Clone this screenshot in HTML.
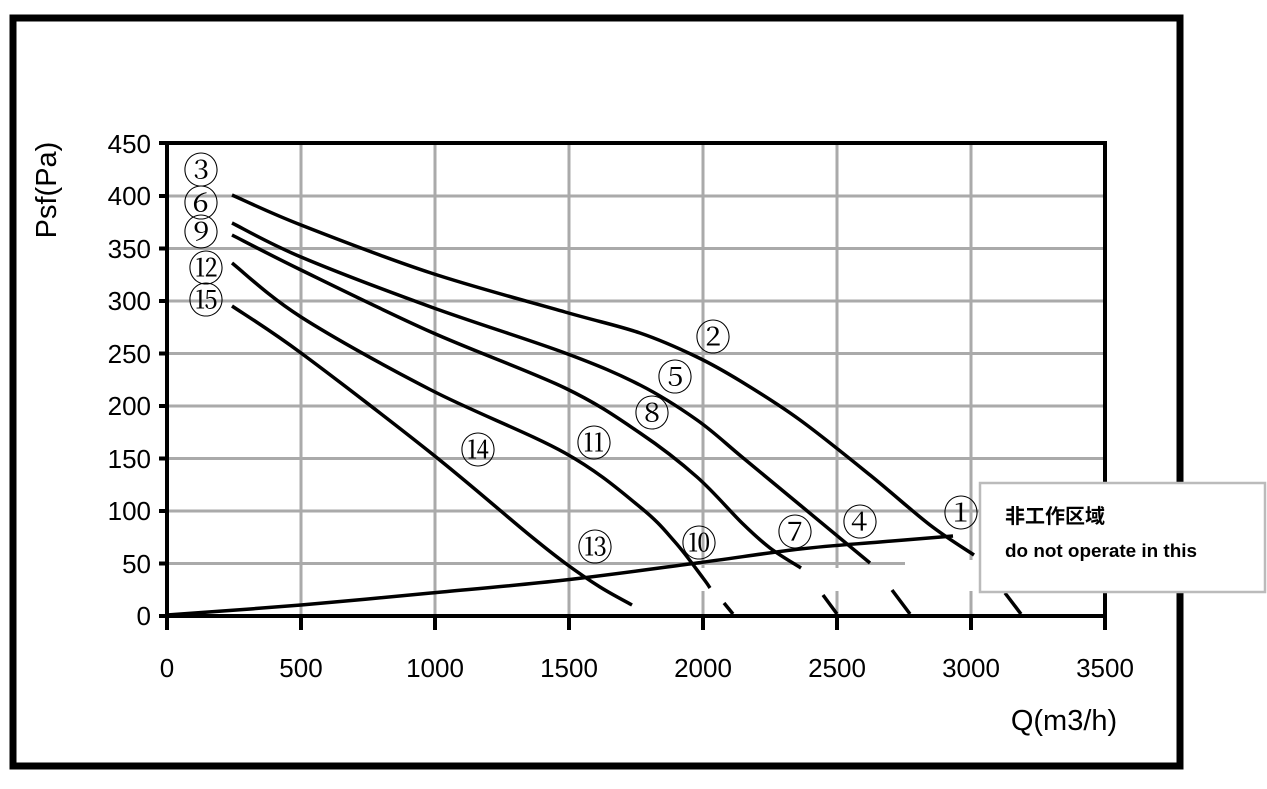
<!DOCTYPE html>
<html><head><meta charset="utf-8"><style>
html,body{margin:0;padding:0;background:#fff;}
svg{display:block;}
</style></head><body>
<svg id="s" width="1267" height="789" viewBox="0 0 1267 789" xmlns="http://www.w3.org/2000/svg">
<rect x="13" y="18" width="1167" height="748" fill="none" stroke="#000" stroke-width="7"/>
<g stroke="#aaa" stroke-width="3">
<line x1="301" y1="143" x2="301" y2="616"/><line x1="435" y1="143" x2="435" y2="616"/>
<line x1="569" y1="143" x2="569" y2="616"/><line x1="703" y1="143" x2="703" y2="616"/>
<line x1="837" y1="143" x2="837" y2="616"/><line x1="971" y1="143" x2="971" y2="616"/>
<line x1="167" y1="196" x2="1105" y2="196"/><line x1="167" y1="248.5" x2="1105" y2="248.5"/>
<line x1="167" y1="301" x2="1105" y2="301"/><line x1="167" y1="353.5" x2="1105" y2="353.5"/>
<line x1="167" y1="406" x2="1105" y2="406"/><line x1="167" y1="458.5" x2="1105" y2="458.5"/>
<line x1="167" y1="511" x2="1105" y2="511"/><line x1="167" y1="563.5" x2="1105" y2="563.5"/>
</g>
<rect x="700" y="568" width="280" height="23" fill="#fff"/>
<rect x="905" y="560" width="75" height="8" fill="#fff"/>
<g stroke="#000" stroke-width="4" fill="none">
<polyline points="167,143 1105,143 1105,616 167,616 167,143"/>
<line x1="159" y1="143" x2="167" y2="143"/><line x1="159" y1="196" x2="167" y2="196"/>
<line x1="159" y1="248.5" x2="167" y2="248.5"/><line x1="159" y1="301" x2="167" y2="301"/>
<line x1="159" y1="353.5" x2="167" y2="353.5"/><line x1="159" y1="406" x2="167" y2="406"/>
<line x1="159" y1="458.5" x2="167" y2="458.5"/><line x1="159" y1="511" x2="167" y2="511"/>
<line x1="159" y1="563.5" x2="167" y2="563.5"/><line x1="159" y1="616" x2="167" y2="616"/>
<line x1="167" y1="616" x2="167" y2="630"/><line x1="301" y1="616" x2="301" y2="630"/>
<line x1="435" y1="616" x2="435" y2="630"/><line x1="569" y1="616" x2="569" y2="630"/>
<line x1="703" y1="616" x2="703" y2="630"/><line x1="837" y1="616" x2="837" y2="630"/>
<line x1="971" y1="616" x2="971" y2="630"/><line x1="1105" y1="616" x2="1105" y2="630"/>
</g>
<g id="curves" stroke="#000" stroke-width="3.5" fill="none">
<path id="c1"/><path id="c2"/><path id="c3"/><path id="c4"/><path id="c5"/><path id="c6"/>
<line x1="724" y1="603" x2="733" y2="614"/>
<line x1="823" y1="595" x2="837" y2="614"/>
<line x1="892" y1="590" x2="910" y2="614"/>
<line x1="1005" y1="593" x2="1021" y2="614"/>
</g>
<g font-family="'Liberation Sans', sans-serif" font-size="26" fill="#000" text-anchor="end">
<text x="151" y="153">450</text><text x="151" y="205">400</text><text x="151" y="258">350</text>
<text x="151" y="310">300</text><text x="151" y="363">250</text><text x="151" y="415">200</text>
<text x="151" y="468">150</text><text x="151" y="520">100</text><text x="151" y="573">50</text>
<text x="151" y="625">0</text>
</g>
<g font-family="'Liberation Sans', sans-serif" font-size="26" fill="#000" text-anchor="middle">
<text x="167" y="677">0</text><text x="301" y="677">500</text><text x="435" y="677">1000</text>
<text x="569" y="677">1500</text><text x="703" y="677">2000</text><text x="837" y="677">2500</text>
<text x="971" y="677">3000</text><text x="1105" y="677">3500</text>
<text x="1064" y="730" font-size="29">Q(m3/h)</text>
<text transform="translate(56,190) rotate(-90)" font-size="29">Psf(Pa)</text>
</g>
<g font-family="'Noto Serif CJK SC', 'DejaVu Serif', serif" font-size="36" fill="#000" text-anchor="middle">
<text x="201" y="183">③</text><text x="201" y="216">⑥</text><text x="201" y="245">⑨</text>
<text x="206" y="281">⑫</text><text x="206" y="313">⑮</text>
<text x="713" y="350">②</text><text x="675" y="390">⑤</text><text x="652" y="426">⑧</text>
<text x="594" y="456">⑪</text><text x="478" y="463">⑭</text><text x="595" y="560">⑬</text>
<text x="699" y="556">⑩</text><text x="795" y="545">⑦</text><text x="860" y="535">④</text>
<text x="961" y="526">①</text>
</g>
<rect x="980" y="483" width="285" height="109" fill="#fff" stroke="#bbb" stroke-width="2.5"/>
<text x="1005" y="523" font-family="'Liberation Sans','Noto Sans CJK SC',sans-serif" font-size="20" font-weight="bold">非工作区域</text>
<text x="1005" y="557" font-family="'Liberation Sans',sans-serif" font-size="18" font-weight="bold" textLength="192" lengthAdjust="spacingAndGlyphs">do not operate in this</text>
</svg>
<script>
function cr(p){var d="M"+p[0][0]+","+p[0][1];for(var i=0;i<p.length-1;i++){var a=p[i-1]||p[i],b=p[i],c=p[i+1],e=p[i+2]||c;
d+=" C"+(b[0]+(c[0]-a[0])/6)+","+(b[1]+(c[1]-a[1])/6)+" "+(c[0]-(e[0]-b[0])/6)+","+(c[1]-(e[1]-b[1])/6)+" "+c[0]+","+c[1];}return d;}
var C={
c1:[[232,195],[301,225],[431,273],[565,312],[640,333],[697,357],[742,382],[800,420],[870,475],[930,525],[974,555]],
c2:[[232,223],[301,257],[431,307],[565,353],[640,385],[697,420],[742,457],[800,505],[870,563]],
c3:[[232,235],[301,270],[431,332],[565,388],[640,433],[697,477],[742,523],[770,548],[801,568]],
c4:[[232,263],[301,317],[431,390],[565,453],[640,507],[675,542],[703,578],[710,588]],
c5:[[232,306],[301,353],[431,453],[527,533],[565,563],[600,587],[632,605]],
c6:[[167,615],[301,605],[431,593],[565,580],[697,563],[800,549],[880,542],[953,536]]};
for(var k in C)document.getElementById(k).setAttribute("d",cr(C[k]));
</script>
</body></html>
